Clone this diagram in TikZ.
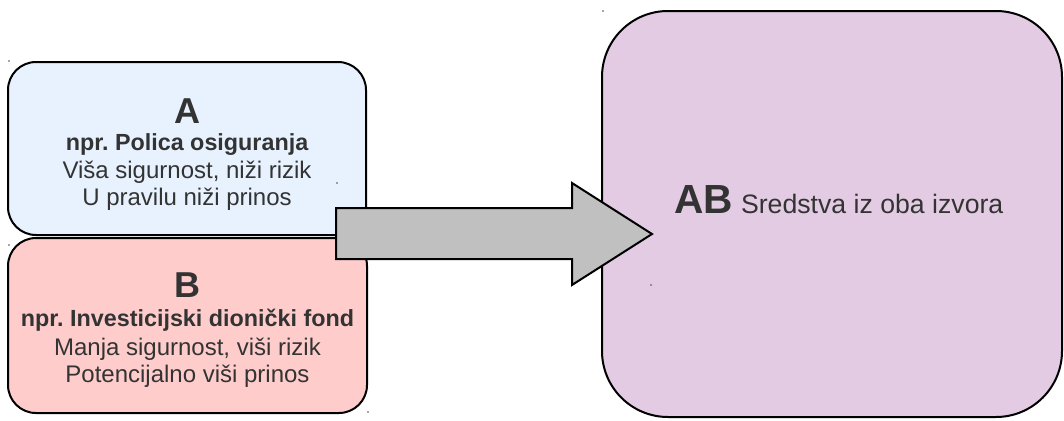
\documentclass[tikz,border=0pt]{standalone}
\usepackage{fontspec}
\setmainfont{Liberation Sans}
\frenchspacing
\definecolor{txt}{HTML}{333333}
\definecolor{fillA}{HTML}{E8F2FE}
\definecolor{fillB}{HTML}{FFCCCC}
\definecolor{fillAB}{HTML}{E3CCE3}
\definecolor{arrowgray}{HTML}{C0C0C0}
\tikzset{
  box/.style={draw=black, line width=1.5pt, inner sep=0pt},
  title/.style={anchor=base, inner sep=0pt, text=txt, font=\fontsize{27}{31}\selectfont\bfseries},
  boldline/.style={anchor=base, inner sep=0pt, text=txt, font=\fontsize{17.5}{21}\selectfont\bfseries},
  plainline/.style={anchor=base, inner sep=0pt, text=txt, font=\fontsize{18}{21}\selectfont},
  speck/.style={fill=black!70}
}
\begin{document}
\begin{tikzpicture}[x=0.75pt,y=-0.75pt]
\useasboundingbox (0,0) rectangle (1064,421);
% boxes
\node[box, fill=fillA, rounded corners=21pt, minimum width=268.5pt, minimum height=129.75pt] (boxA) at (187,148.5) {};
\node[box, fill=fillB, rounded corners=21pt, minimum width=269.25pt, minimum height=131.25pt] (boxB) at (187.5,325.5) {};
\node[box, fill=fillAB, rounded corners=49.5pt, minimum width=345pt, minimum height=304.5pt] (boxAB) at (832,214) {};
% texts A
\node[title] (tA) at (187,123) {A};
\node[boldline] (tA1) at (187,150) {npr. Polica osiguranja};
\node[plainline] (tA2) at (187,178) {Viša sigurnost, niži rizik};
\node[plainline] (tA3) at (187,205) {U pravilu niži prinos};
% texts B
\node[title] (tB) at (187.5,297) {B};
\node[boldline] (tB1) at (187.5,326) {npr. Investicijski dionički fond};
\node[plainline] (tB2) at (187.5,355) {Manja sigurnost, viši rizik};
\node[plainline] (tB3) at (187.5,382) {Potencijalno viši prinos};
% text AB
\node[anchor=base west, inner sep=0pt, text=txt] (tAB) at (674,213)
  {{\fontsize{30.5}{34}\selectfont\bfseries AB}\hspace{6pt}{\fontsize{20}{23}\selectfont Sredstva iz oba izvora}};
% arrow
\coordinate (s1) at (336,208);
\coordinate (s2) at (572,208);
\coordinate (h1) at (572,183);
\coordinate (tip) at (652,234);
\coordinate (h2) at (572,285);
\coordinate (s3) at (572,259);
\coordinate (s4) at (336,259);
\draw[fill=arrowgray, line width=1.5pt, line join=miter] (s1) -- (s2) -- (h1) -- (tip) -- (h2) -- (s3) -- (s4) -- cycle;
% small specks
\foreach \p in {(9,61),(337,183),(9,245),(368,412),(603,11),(651,285)}
  \fill[speck] \p circle (0.7pt);
\end{tikzpicture}
\end{document}
